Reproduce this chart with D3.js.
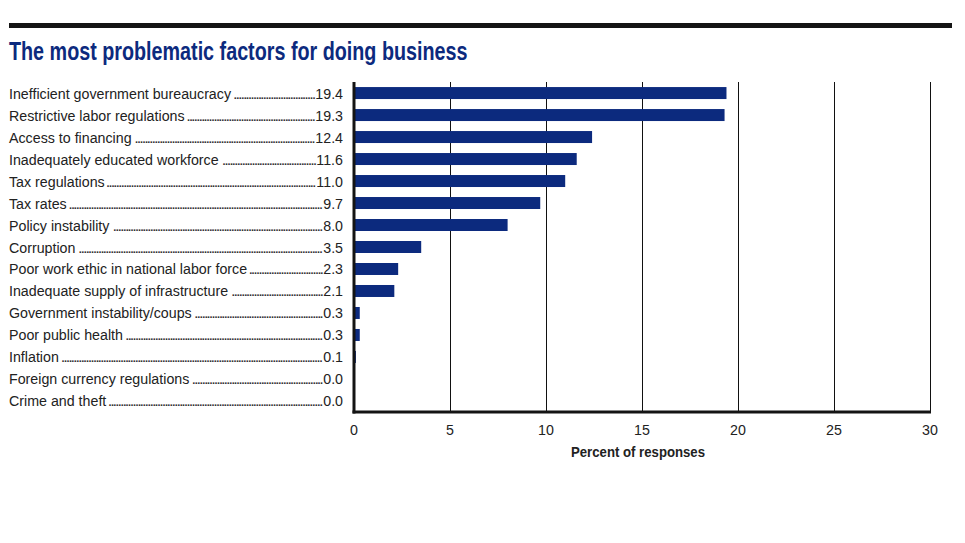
<!DOCTYPE html>
<html>
<head>
<meta charset="utf-8">
<script src="https://cdn.jsdelivr.net/npm/d3@7"></script>
<style>
  body { margin: 0; background: #fff; }
  svg { display: block; }
</style>
</head>
<body>
<svg id="chart" width="965" height="543"></svg>
<script>
// Data
let factors = [
  "Inefficient government bureaucracy",
  "Restrictive labor regulations",
  "Access to financing",
  "Inadequately educated workforce",
  "Tax regulations",
  "Tax rates",
  "Policy instability",
  "Corruption",
  "Poor work ethic in national labor force",
  "Inadequate supply of infrastructure",
  "Government instability/coups",
  "Poor public health",
  "Inflation",
  "Foreign currency regulations",
  "Crime and theft"
]
let values = [19.4, 19.3, 12.4, 11.6, 11.0, 9.7, 8.0, 3.5, 2.3, 2.1, 0.3, 0.3, 0.1, 0.0, 0.0]
let xTicks = [0, 5, 10, 15, 20, 25, 30]

let font = "'Liberation Sans', Arial, sans-serif"
let barColor = "#0c2a7e"
let sx = 0.95 // compresion horizontal (la fuente original es estrecha)

let svg = d3.select("#chart")

// texto comprimido horizontalmente
function narrowText(parent, x, y, txt, scale) {
  return parent.append("text")
    .attr("transform", `translate(${x},${y}) scale(${scale},1)`)
    .text(txt)
}

// barra superior y titulo
svg.append("rect")
  .attr("x", 9).attr("y", 23)
  .attr("width", 943).attr("height", 5)
  .attr("fill", "#141414")

narrowText(svg, 9, 60, "The most problematic factors for doing business", 0.79)
  .attr("font-family", font)
  .attr("font-weight", "bold")
  .attr("font-size", 25)
  .attr("fill", "#0c2a7e")

let plotLeft = 354, plotRight = 930, plotTop = 82, plotBottom = 412

let x = d3.scaleLinear().domain([0, 30]).range([plotLeft, plotRight])
let y = d3.scaleBand().domain(factors).range([plotTop, plotBottom]).paddingInner(0.455).paddingOuter(0.23)

// lineas de grilla
svg.append("g")
  .selectAll("line")
  .data(xTicks.slice(1))
  .join("line")
  .attr("x1", d => Math.round(x(d)) + 0.5).attr("x2", d => Math.round(x(d)) + 0.5)
  .attr("y1", plotTop).attr("y2", plotBottom)
  .attr("stroke", "#111")
  .attr("stroke-width", 1)

// barras
svg.append("g")
  .selectAll("rect")
  .data(factors)
  .join("rect")
  .attr("x", plotLeft)
  .attr("y", d => y(d))
  .attr("height", y.bandwidth())
  .attr("width", (d, i) => x(values[i]) - plotLeft)
  .attr("fill", barColor)

// ejes
svg.append("line")
  .attr("x1", plotLeft).attr("x2", plotLeft)
  .attr("y1", plotTop).attr("y2", plotBottom + 1.5)
  .attr("stroke", "#141414").attr("stroke-width", 3)
svg.append("line")
  .attr("x1", plotLeft - 1.5).attr("x2", plotRight + 1)
  .attr("y1", plotBottom).attr("y2", plotBottom)
  .attr("stroke", "#141414").attr("stroke-width", 3)

// etiquetas con puntos
let labels = svg.append("g")
  .attr("font-family", font)
  .attr("font-size", 15)
  .attr("fill", "#222")

let valueRight = 343
factors.map((f, i) => {
  let cy = y(f) + y.bandwidth() / 2 + 5.5
  let name = narrowText(labels, 9, cy, f, sx)
  let val = narrowText(labels, valueRight, cy, values[i].toFixed(1), sx)
    .attr("text-anchor", "end")
  let nameEnd = 9 + name.node().getComputedTextLength() * sx + 1.5
  let valStart = valueRight - val.node().getComputedTextLength() * sx
  let dots = labels.append("text").attr("y", cy).attr("font-size", 11)
    .attr("font-weight", "bold").attr("letter-spacing", -0.6).attr("fill", "#333").text(".")
  let dotW = dots.node().getComputedTextLength()
  let n = Math.max(0, Math.floor((valStart - nameEnd) / dotW))
  dots.text(".".repeat(n)).attr("x", valStart - n * dotW)
})

// marcas del eje x
let ticksG = svg.append("g")
  .attr("font-family", font)
  .attr("font-size", 15)
  .attr("fill", "#222")
  .attr("text-anchor", "middle")
xTicks.map(t => narrowText(ticksG, x(t), 435, t, sx))

narrowText(svg, 638, 457, "Percent of responses", 0.88)
  .attr("text-anchor", "middle")
  .attr("font-family", font)
  .attr("font-weight", "bold")
  .attr("font-size", 15)
  .attr("fill", "#222")
</script>
</body>
</html>
